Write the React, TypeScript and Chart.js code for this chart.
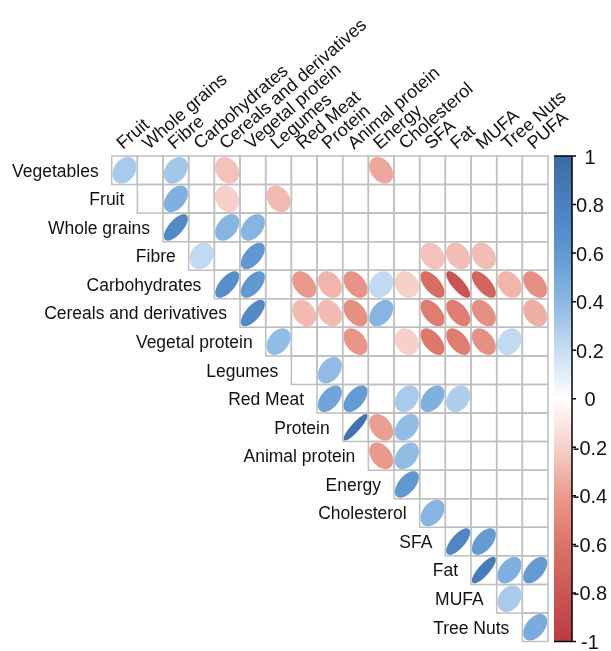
import React, { useEffect, useRef } from "react";
import { Chart, registerables } from "chart.js";

Chart.register(...registerables);

// Variables in matrix order; rows use all but the last, columns all but the first.
const variables = [
  "Vegetables",
  "Fruit",
  "Whole grains",
  "Fibre",
  "Carbohydrates",
  "Cereals and derivatives",
  "Vegetal protein",
  "Legumes",
  "Red Meat",
  "Protein",
  "Animal protein",
  "Energy",
  "Cholesterol",
  "SFA",
  "Fat",
  "MUFA",
  "Tree Nuts",
  "PUFA",
];
const rowLabels = variables.slice(0, variables.length - 1);
const columnLabels = variables.slice(1);

// Correlations of each row variable, starting at its own column (upper triangle).
// null = not significant (cell left empty).
const vegetables = [0.3, null, 0.32, null, -0.25, null, null, null, null, null, -0.35, null, null, null, null, null, null];
const fruit = [null, 0.45, null, -0.2, null, -0.28, null, null, null, null, null, null, null, null, null, null];
const wholeGrains = [0.72, null, 0.42, 0.42, null, null, null, null, null, null, null, null, null, null, null];
const fibre = [0.22, null, 0.6, null, null, null, null, null, null, -0.25, -0.27, -0.27, null, null];
const carbohydrates = [0.68, 0.6, null, -0.4, -0.3, -0.43, 0.22, -0.2, -0.65, -0.82, -0.7, -0.3, -0.45];
const cereals = [0.72, null, -0.28, -0.28, -0.45, 0.42, null, -0.55, -0.55, -0.45, null, -0.32];
const vegetalProtein = [0.38, null, null, -0.42, null, -0.2, -0.58, -0.55, -0.45, 0.22, null];
const legumes = [null, 0.38, null, null, null, null, null, null, null, null];
const redMeat = [0.52, 0.58, null, 0.3, 0.45, 0.28, null, null, null];
const protein = [0.92, -0.38, 0.38, null, null, null, null, null];
const animalProtein = [-0.4, 0.38, null, null, null, null, null];
const energy = [0.6, null, null, null, null, null];
const cholesterol = [0.42, null, null, null, null];
const sfa = [0.75, 0.58, null, null];
const fat = [0.85, 0.45, 0.58];
const mufa = [0.3, null];
const treeNuts = [0.48];

const correlationRows: (number | null)[][] = [
  vegetables, fruit, wholeGrains, fibre, carbohydrates, cereals, vegetalProtein,
  legumes, redMeat, protein, animalProtein, energy, cholesterol, sfa, fat, mufa, treeNuts,
];

// Colour legend ticks.
const legendTicks = [1, 0.8, 0.6, 0.4, 0.2, 0, -0.2, -0.4, -0.6, -0.8, -1];

// Diverging red-white-blue palette.
const palette: [number, string][] = [
  [-1, "#bd3a42"],
  [-0.8, "#cb5656"],
  [-0.6, "#db7467"],
  [-0.4, "#ea998d"],
  [-0.2, "#f7d0c9"],
  [0, "#ffffff"],
  [0.2, "#c7ddf2"],
  [0.4, "#8bb8e3"],
  [0.6, "#6098d1"],
  [0.8, "#4b80bf"],
  [1, "#3b6ba6"],
];

const N = rowLabels.length;
const LEGEND_COLS = 0.935; // extra x-range that holds the colour bar
const FONT = "'Liberation Sans', Arial, sans-serif";
const LABEL_ANGLE = (41 * Math.PI) / 180;

function hexToRgb(h: string): number[] {
  const n = parseInt(h.slice(1), 16);
  return [(n >> 16) & 255, (n >> 8) & 255, n & 255];
}

function colorFor(v: number): string {
  for (let i = 0; i < palette.length - 1; i++) {
    const [a, ca] = palette[i];
    const [b, cb] = palette[i + 1];
    if (v >= a && v <= b) {
      const t = (v - a) / (b - a);
      const A = hexToRgb(ca);
      const B = hexToRgb(cb);
      const c = A.map((x, k) => Math.round(x + (B[k] - x) * t));
      return `rgb(${c[0]},${c[1]},${c[2]})`;
    }
  }
  return v < 0 ? palette[0][1] : palette[palette.length - 1][1];
}

type Cell = { x: number; y: number; r: number };

const cells: Cell[] = [];
correlationRows.forEach((row, i) => {
  row.forEach((r, k) => {
    if (r !== null) cells.push({ x: i + k + 0.5, y: i + 0.5, r });
  });
});

const corrPlugin = {
  id: "corrMatrix",
  afterDatasetsDraw(chart: any) {
    const { ctx, scales } = chart;
    const xs = scales.x;
    const ys = scales.y;
    const cbs = scales.cb;
    const colW = xs.getPixelForValue(1) - xs.getPixelForValue(0);
    const rowH = ys.getPixelForValue(1) - ys.getPixelForValue(0);
    ctx.save();

    // ellipses: filled and outlined in their own colour
    const meta = chart.getDatasetMeta(0);
    meta.data.forEach((el: any, idx: number) => {
      const r = cells[idx].r;
      const a = Math.acos(r);
      const s = 0.86 / 2;
      ctx.beginPath();
      const steps = 120;
      for (let k = 0; k <= steps; k++) {
        const t = (k / steps) * Math.PI * 2;
        const px = el.x + Math.cos(t + a / 2) * s * colW;
        const py = el.y - Math.cos(t - a / 2) * s * rowH;
        if (k === 0) ctx.moveTo(px, py);
        else ctx.lineTo(px, py);
      }
      ctx.closePath();
      const c = colorFor(r);
      ctx.fillStyle = c;
      ctx.strokeStyle = c;
      ctx.lineWidth = 2;
      ctx.lineJoin = "round";
      ctx.fill();
      ctx.stroke();
    });

    // cell borders of the upper triangle
    ctx.strokeStyle = "#bfbfbf";
    ctx.lineWidth = 1.5;
    for (let i = 0; i < N; i++) {
      for (let j = i; j < N; j++) {
        const x0 = xs.getPixelForValue(j);
        const y0 = ys.getPixelForValue(i);
        ctx.strokeRect(x0, y0, colW, rowH);
      }
    }

    // row labels, staircase to the left of each row's first cell
    ctx.fillStyle = "#111";
    ctx.font = `17.5px ${FONT}`;
    ctx.textAlign = "right";
    ctx.textBaseline = "middle";
    rowLabels.forEach((lab, i) => {
      ctx.fillText(lab, xs.getPixelForValue(i) - 13, ys.getPixelForValue(i + 0.5) + 1.5);
    });

    // column labels, rotated above the grid
    const top = ys.getPixelForValue(0);
    ctx.font = `18px ${FONT}`;
    ctx.textAlign = "left";
    ctx.textBaseline = "alphabetic";
    columnLabels.forEach((lab, j) => {
      ctx.save();
      ctx.translate(xs.getPixelForValue(j + 0.5) - 1.5, top - 6);
      ctx.rotate(-LABEL_ANGLE);
      ctx.fillText(lab, 0, 0);
      ctx.restore();
    });

    // colour bar
    const barRight = xs.getPixelForValue(17 + LEGEND_COLS);
    const barLeft = barRight - 18;
    const yTop = cbs.getPixelForValue(1);
    const yBot = cbs.getPixelForValue(-1);
    const grad = ctx.createLinearGradient(0, yBot, 0, yTop);
    palette.forEach(([v, c]) => grad.addColorStop((v + 1) / 2, c));
    ctx.fillStyle = grad;
    ctx.fillRect(barLeft, yTop, barRight - barLeft, yBot - yTop);

    ctx.strokeStyle = "#000";
    ctx.lineWidth = 1.5;
    ctx.beginPath();
    ctx.moveTo(barLeft, yTop);
    ctx.lineTo(barRight, yTop);
    ctx.lineTo(barRight, yBot);
    ctx.lineTo(barLeft, yBot);
    legendTicks.forEach((v) => {
      const y = cbs.getPixelForValue(v);
      ctx.moveTo(barRight, y);
      ctx.lineTo(barRight + 4, y);
    });
    ctx.stroke();

    ctx.fillStyle = "#111";
    ctx.font = `20px ${FONT}`;
    ctx.textAlign = "center";
    ctx.textBaseline = "middle";
    legendTicks.forEach((v) => {
      ctx.fillText(String(v), barRight + 18, cbs.getPixelForValue(v) + 2);
    });

    ctx.restore();
  },
};

export default function App() {
  const ref = useRef<HTMLCanvasElement | null>(null);

  useEffect(() => {
    if (!ref.current) return;
    const chart = new Chart(ref.current, {
      type: "scatter",
      data: {
        datasets: [
          {
            data: cells.map((c) => ({ x: c.x, y: c.y })),
            pointRadius: 0,
            pointHoverRadius: 0,
          },
        ],
      },
      options: {
        responsive: false,
        animation: false,
        events: [],
        layout: { padding: { left: 111.7, right: 39, top: 156, bottom: 9.5 } },
        plugins: { legend: { display: false }, tooltip: { enabled: false } },
        scales: {
          x: { type: "linear", min: 0, max: 17 + LEGEND_COLS, display: false },
          y: { type: "linear", min: 0, max: 17, reverse: true, display: false },
          cb: { type: "linear", axis: "y", min: -1, max: 1, display: false },
        },
      },
      plugins: [corrPlugin],
    });
    return () => chart.destroy();
  }, []);

  return (
    <div style={{ position: "fixed", left: 0, top: 0, width: 611, height: 651, background: "#fff" }}>
      <canvas ref={ref} width={611} height={651} />
    </div>
  );
}
